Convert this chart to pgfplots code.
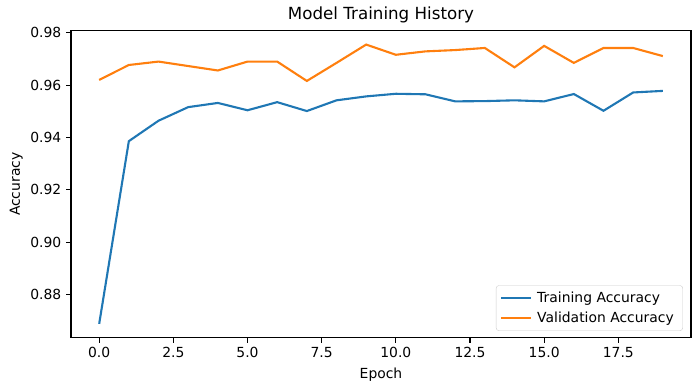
\documentclass[border=0pt]{standalone}
\usepackage{pgfplots}
\pgfplotsset{compat=1.18}
\usepackage{fontspec}
\setmainfont{DejaVu Sans}
\definecolor{tabblue}{HTML}{1F77B4}
\definecolor{taborange}{HTML}{FF7F0E}
\begin{document}
\fontsize{13.9}{16}\selectfont
\begin{tikzpicture}
\path[use as bounding box] (-71pt,-53.3pt) rectangle (629pt,337.7pt);
\begin{axis}[
  at={(0,0)}, anchor=south west,
  scale only axis, width=620pt, height=307pt,
  xmin=-0.95, xmax=19.95, ymin=0.8635, ymax=0.9808,
  xtick={0,2.5,5,7.5,10,12.5,15,17.5},
  xticklabels={0.0,2.5,5.0,7.5,10.0,12.5,15.0,17.5},
  ytick={0.88,0.90,0.92,0.94,0.96,0.98},
  yticklabels={0.88,0.90,0.92,0.94,0.96,0.98},
  tick align=outside, major tick length=4.9pt,
  tick style={black, line width=1.1pt},
  xtick pos=lower, ytick pos=left,
  axis line style={line width=1.1pt},
  ticklabel style={font=\fontsize{13.9}{16}\selectfont},
  xlabel={Epoch}, ylabel={Accuracy},
  label style={font=\fontsize{13.9}{16}\selectfont},
  xlabel style={yshift=-1pt},
  ylabel style={yshift=-2pt},
  title={Model Training History},
  title style={font=\fontsize{16.7}{19}\selectfont, yshift=-3pt},
  legend style={at={(rel axis cs:0.987,0.022)}, anchor=south east,
    draw=black!20, rounded corners=3pt, fill=white, fill opacity=0.8, text opacity=1,
    font=\fontsize{13.9}{16}\selectfont, row sep=4pt, inner xsep=4pt, inner ysep=4pt,
    nodes={inner xsep=5pt}},
  legend cell align=left,
  legend image code/.code={\draw[#1] (0pt,0pt) -- (30pt,0pt);},
]
\addplot[tabblue, line width=2.1pt] coordinates {
(0,0.8688) (1,0.9386) (2,0.9464) (3,0.9516) (4,0.9532) (5,0.9504) (6,0.9535) (7,0.9501) (8,0.9542) (9,0.9557)
(10,0.9567) (11,0.9565) (12,0.9538) (13,0.9539) (14,0.9542) (15,0.9538) (16,0.9566) (17,0.9502) (18,0.9572) (19,0.9578)};
\addlegendentry{Training Accuracy}
\addplot[taborange, line width=2.1pt] coordinates {
(0,0.9620) (1,0.9677) (2,0.9690) (3,0.9673) (4,0.9656) (5,0.9690) (6,0.9690) (7,0.9616) (8,0.9685) (9,0.9755)
(10,0.9716) (11,0.9729) (12,0.9734) (13,0.9742) (14,0.9668) (15,0.9750) (16,0.9685) (17,0.9742) (18,0.9742) (19,0.9711)};
\addlegendentry{Validation Accuracy}
\end{axis}
\end{tikzpicture}
\end{document}
